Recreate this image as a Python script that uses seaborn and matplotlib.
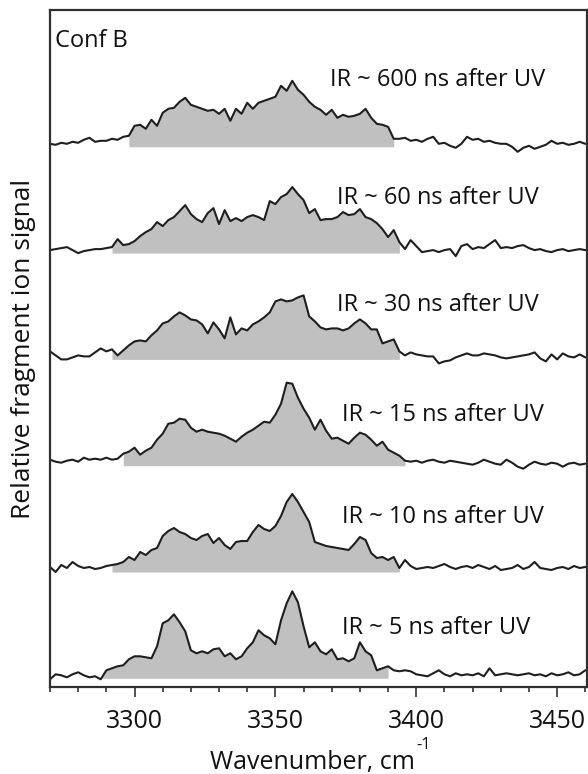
import numpy as np
import pandas as pd
import matplotlib
matplotlib.use("Agg")
import matplotlib.pyplot as plt
import seaborn as sns
from matplotlib.ticker import MultipleLocator

# ---------------- data ----------------
wavenumber = np.arange(3270, 3461, 2)

delays = ["600", "60", "30", "15", "10", "5"]

sig_600 = [3, 2, 4, 3, 5, 4, 7, 9, 5, 6,
           6, 8, 7, 10, 11, 21, 22, 18, 27, 21,
           34, 38, 39, 45, 49, 42, 40, 38, 36, 37,
           33, 38, 26, 38, 33, 44, 38, 44, 46, 48,
           50, 61, 56, 66, 57, 52, 45, 40, 37, 32,
           37, 29, 32, 30, 31, 33, 38, 29, 23, 22,
           20, 8, 8, 9, 6, 7, 5, 8, 10, 3,
           4, 1, -1, 3, 10, 7, 8, 5, 6, 4,
           3, 3, 0, -5, -1, 1, -2, 0, 2, 6,
           3, 4, 2, 3, 5, 3]

sig_60 = [3, 4, 5, 6, 3, 0, 2, 3, 4, 4,
          5, 6, 14, 8, 9, 12, 17, 21, 24, 31,
          27, 33, 36, 42, 48, 39, 34, 31, 40, 45,
          29, 43, 32, 35, 32, 36, 38, 36, 33, 52,
          49, 56, 59, 66, 59, 53, 40, 44, 33, 34,
          34, 36, 41, 38, 39, 44, 36, 34, 30, 24,
          16, 23, 11, 4, 13, 7, 1, 2, 3, 1,
          3, 4, -3, 7, 9, 4, 6, 5, 9, 13,
          5, 6, 5, 7, 8, 5, 3, 4, 2, 1,
          3, 4, 2, 3, 4, 3]

sig_30 = [8, 4, 0, 0, 2, 4, 3, 3, 7, 11,
          8, 10, 4, 9, 14, 18, 19, 18, 24, 29,
          36, 38, 43, 47, 44, 40, 39, 35, 26, 37,
          30, 21, 42, 25, 31, 29, 35, 38, 42, 47,
          58, 60, 58, 59, 62, 64, 43, 38, 32, 30,
          31, 31, 29, 31, 36, 40, 36, 30, 30, 16,
          18, 20, 8, 4, 7, 5, 4, 3, 3, -4,
          -2, -1, 2, 4, 6, 4, 4, 6, 5, 4,
          2, 1, 2, 3, 4, 5, 7, 1, -2, 5,
          0, 6, 3, 2, 5, 2]

sig_15 = [6, 4, 3, 5, 6, 4, 8, 6, 7, 6,
          8, 6, 7, 12, 14, 18, 11, 15, 18, 26,
          32, 42, 43, 47, 46, 38, 34, 36, 34, 33,
          32, 30, 27, 24, 29, 33, 36, 40, 44, 43,
          51, 62, 83, 82, 68, 57, 48, 36, 46, 35,
          27, 28, 25, 22, 28, 33, 31, 26, 20, 24,
          16, 13, 10, 5, 4, 5, 3, 5, 6, 4,
          3, 5, 4, 3, 2, 1, 3, 6, 4, 2,
          1, 6, 3, -1, -3, 1, 4, 2, 1, 3,
          2, -1, 2, 3, 1, 2]

sig_10 = [5, 0, 7, 4, 10, 6, 4, 5, 3, 4,
          6, 7, 8, 10, 15, 12, 20, 17, 22, 24,
          36, 41, 44, 40, 38, 34, 32, 36, 38, 29,
          34, 27, 23, 30, 31, 31, 40, 47, 43, 41,
          46, 56, 70, 78, 70, 60, 50, 30, 28, 26,
          25, 24, 23, 22, 28, 35, 32, 19, 14, 15,
          12, 15, 4, 12, 6, 3, 4, 5, 4, 6,
          8, 5, 3, 5, 6, 4, 7, 5, 3, 6,
          2, 3, 4, 7, 3, 5, 10, 4, 3, 2,
          4, 5, 3, 6, 4, 5]

sig_5 = [-1, 4, 3, 1, 4, 6, 3, 1, 2, -1,
         8, 10, 12, 13, 19, 22, 22, 21, 20, 32,
         55, 58, 64, 56, 47, 28, 25, 27, 25, 29,
         30, 22, 25, 19, 22, 30, 36, 48, 43, 40,
         34, 58, 75, 87, 76, 52, 31, 36, 27, 24,
         29, 19, 20, 17, 20, 36, 27, 23, 8, 10,
         12, 8, 7, 8, 7, 4, 3, 2, 5, 8,
         4, 2, 5, 3, 4, 3, 5, 2, 10, 3,
         4, 5, 4, 3, 4, 5, 3, 4, 2, 5,
         3, 4, 6, 3, 4, 8]

fill_start = [3297, 3291, 3292, 3295, 3292, 3288]
fill_end = [3393, 3394, 3395, 3396, 3394, 3391]

signals = [sig_600, sig_60, sig_30, sig_15, sig_10, sig_5]
for s in signals:
    assert len(s) == len(wavenumber)

# ---------------- layout / style ----------------
spacing = 106.3
label_x = [3369.5, 3371.7, 3371.7, 3373.5, 3373.5, 3373.5]
label_dy = [67, 55, 54, 51, 55, 50]

sns.set_theme(style="white")
FONT = ["Open Sans", "DejaVu Sans"]
plt.rcParams["font.family"] = FONT

fig = plt.figure(figsize=(5.88, 7.74), dpi=100)
ax = fig.add_axes([50 / 588, 1 - 687 / 774, 537 / 588, 677 / 774])

rows = []
n = len(delays)
for i, (d, s) in enumerate(zip(delays, signals)):
    off = (n - 1 - i) * spacing
    rows.append(pd.DataFrame({"wavenumber": wavenumber,
                              "signal": np.asarray(s, float) + off,
                              "delay": d}))
df = pd.concat(rows, ignore_index=True)

for i, (d, s) in enumerate(zip(delays, signals)):
    off = (n - 1 - i) * spacing
    y = np.asarray(s, float) + off
    mask = (wavenumber >= fill_start[i]) & (wavenumber <= fill_end[i])
    ax.fill_between(wavenumber, off, y, where=mask, color="#c0c0c0",
                    linewidth=0, zorder=1)

sns.lineplot(data=df, x="wavenumber", y="signal", hue="delay",
             palette=["#1e1e1e"] * n, estimator=None, sort=True,
             legend=False, linewidth=1.5, ax=ax, zorder=2)

for i, d in enumerate(delays):
    off = (n - 1 - i) * spacing
    ax.text(label_x[i], off + label_dy[i], f"IR ~ {d} ns after UV",
            ha="left", va="center", fontsize=17, color="#111111")

ax.text(0.0093, 0.954, "Conf B", transform=ax.transAxes, ha="left",
        va="center", fontsize=17, color="#111111")

ax.set_xlim(3270, 3460.6)
ax.set_ylim(-8.7, 668.3)
ax.xaxis.set_major_locator(MultipleLocator(50))
ax.xaxis.set_minor_locator(MultipleLocator(10))
ax.set_yticks([])
ax.tick_params(axis="x", which="major", direction="out", length=7.5,
               width=1.1, color="#222222", bottom=True, labelsize=18,
               pad=8.5, labelcolor="#111111")
ax.tick_params(axis="x", which="minor", direction="out", length=3.8,
               width=1.1, color="#222222", bottom=True)
for sp in ax.spines.values():
    sp.set_visible(True)
    sp.set_color("#303030")
    sp.set_linewidth(1.6)

ax.set_xlabel("Wavenumber, cm", fontsize=18, va="center", color="#111111")
ax.xaxis.set_label_coords(0.489, -0.111)
ax.text(0.6816, -0.0857, "-1", transform=ax.transAxes, ha="left",
        va="center", fontsize=12, color="#111111")
ax.set_ylabel("Relative fragment ion signal", fontsize=19, va="center",
              color="#111111")
ax.yaxis.set_label_coords(-0.05, 0.5)

fig.savefig("out.png", dpi=100)
